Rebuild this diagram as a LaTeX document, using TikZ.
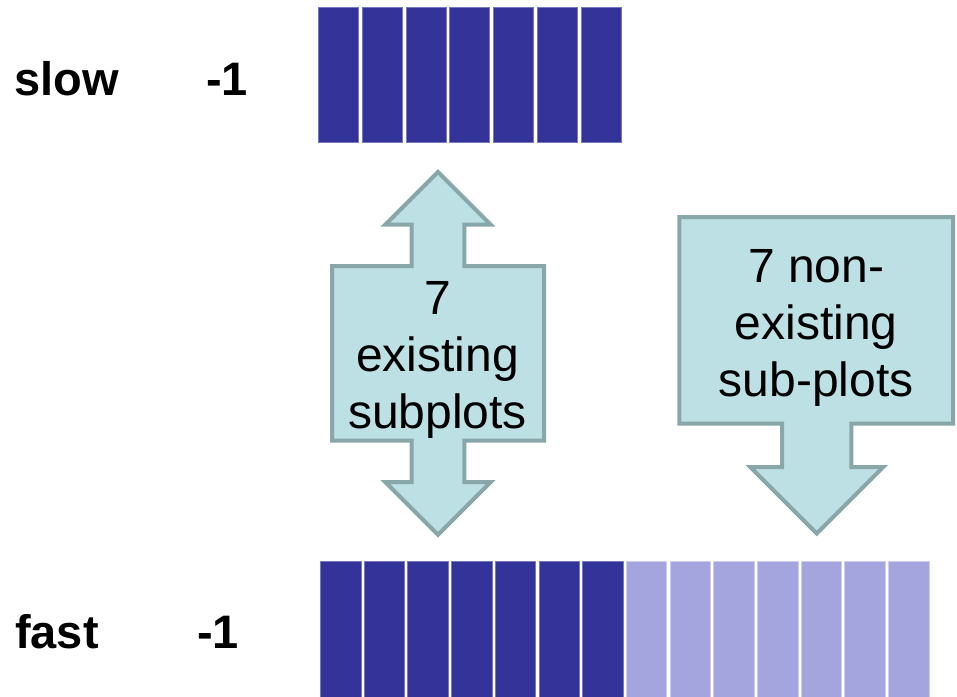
\documentclass[tikz,border=0pt]{standalone}
\usepackage{fontspec}
\setmainfont{Liberation Sans}
\definecolor{celldark}{RGB}{51,51,153}
\definecolor{celldarkline}{RGB}{120,120,190}
\definecolor{celllight}{RGB}{164,164,222}
\definecolor{celllightline}{RGB}{205,205,240}
\definecolor{arrowfill}{RGB}{189,224,228}
\definecolor{arrowline}{RGB}{137,166,168}
\begin{document}
\begin{tikzpicture}[x=1pt,y=-1pt,
  cell/.style={line width=1pt,inner sep=0pt,outer sep=0pt,anchor=north west},
  darkcell/.style={cell,draw=celldarkline,fill=celldark},
  lightcell/.style={cell,draw=celllightline,fill=celllight},
  rowlabel/.style={inner sep=0pt,anchor=base west,font=\fontsize{47}{54}\selectfont\bfseries},
  fatarrow/.style={draw=arrowline,fill=arrowfill,line width=4pt,line join=miter},
  arrowtext/.style={inner sep=0pt,align=center,font=\fontsize{48}{57}\selectfont}]
\clip (0,0) rectangle (957,696);
\fill[white] (0,0) rectangle (957,696);

% row labels
\node[rowlabel] (slow) at (14.5,95) {slow};
\node[rowlabel] (slowval) at (206,95) {-1};
\node[rowlabel] (fast) at (15,648) {fast};
\node[rowlabel] (fastval) at (197,648) {-1};

% slow row: 7 subplots
\foreach \i in {0,...,6}
  \node[darkcell,minimum width=40pt,minimum height=135.6pt]
    (s\i) at ({318.8+43.7*\i},7.2) {};

% fast row: 7 existing + 7 non-existing subplots
\foreach \i in {0,...,6}
  \node[darkcell,minimum width=40.5pt,minimum height=140pt]
    (f\i) at ({320.5+43.7*\i},561.5) {};
\foreach \i in {7,...,13}
  \node[lightcell,minimum width=40.5pt,minimum height=140pt]
    (f\i) at ({320.5+43.7*\i},561.5) {};

% double block arrow between the rows
\draw[fatarrow] (438,172) -- (490.7,224.7) -- (464.3,224.7) -- (464.3,266)
  -- (544,266) -- (544,440.7) -- (464.3,440.7) -- (464.3,482) -- (490.7,482)
  -- (438,534.7) -- (385.3,482) -- (411.7,482) -- (411.7,440.7) -- (332,440.7)
  -- (332,266) -- (411.7,266) -- (411.7,224.7) -- (385.3,224.7) -- cycle;
\node[arrowtext] (existing) at (437.5,360) {7\\existing\\subplots};

% downward block arrow
\draw[fatarrow] (679.3,217) -- (953,217) -- (953,423.7) -- (851.4,423.7)
  -- (851.4,467) -- (883.2,467) -- (816.7,533.5) -- (750.2,467) -- (782,467)
  -- (782,423.7) -- (679.3,423.7) -- cycle;
\node[arrowtext] (nonexisting) at (816.2,328.3) {7 non-\\existing\\sub-plots};
\end{tikzpicture}
\end{document}
